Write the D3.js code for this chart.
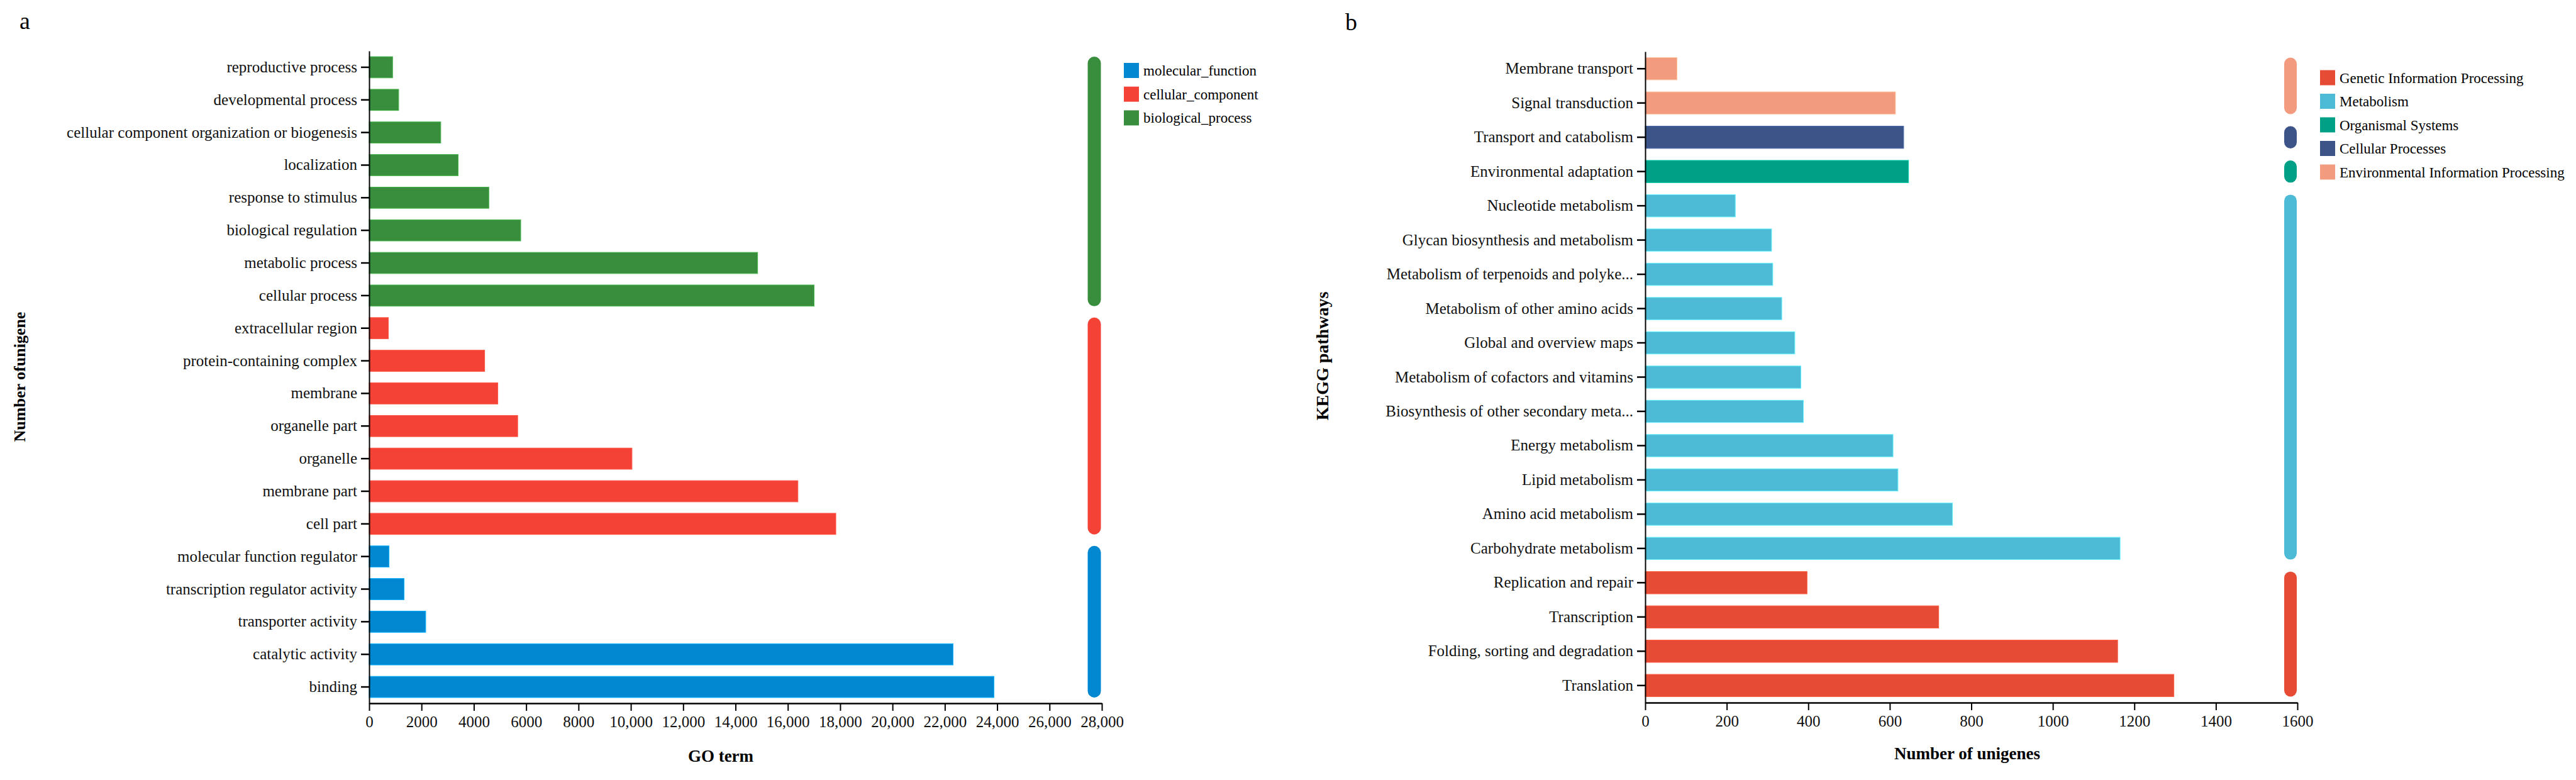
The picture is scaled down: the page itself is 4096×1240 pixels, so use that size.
<!DOCTYPE html>
<html>
<head>
<meta charset="utf-8">
<script src="https://cdn.jsdelivr.net/npm/d3@7"></script>
<style>
  body { margin: 0; background: #fff; }
  svg { font-family: "Liberation Serif", "Times New Roman", serif; }
</style>
</head>
<body>
<script>
// ---- data: panel a (GO) ----
var goTerms = [
  "reproductive process", "developmental process", "cellular component organization or biogenesis",
  "localization", "response to stimulus", "biological regulation", "metabolic process", "cellular process",
  "extracellular region", "protein-containing complex", "membrane", "organelle part", "organelle",
  "membrane part", "cell part",
  "molecular function regulator", "transcription regulator activity", "transporter activity",
  "catalytic activity", "binding"
];
var goCounts = [896, 1127, 2736, 3401, 4574, 5792, 14845, 17005,
  735, 4413, 4917, 5676, 10043, 16385, 17834,
  759, 1333, 2160, 22313, 23877];
var goClass = [
  "biological_process", "biological_process", "biological_process", "biological_process",
  "biological_process", "biological_process", "biological_process", "biological_process",
  "cellular_component", "cellular_component", "cellular_component", "cellular_component",
  "cellular_component", "cellular_component", "cellular_component",
  "molecular_function", "molecular_function", "molecular_function", "molecular_function", "molecular_function"
];
var goClassNames = ["molecular_function", "cellular_component", "biological_process"];
var goClassColors = ["#0288D1", "#F44336", "#388E3C"];
var goTicks = [0, 2000, 4000, 6000, 8000, 10000, 12000, 14000, 16000, 18000, 20000, 22000, 24000, 26000, 28000];

// ---- data: panel b (KEGG) ----
var keggPathways = [
  "Membrane transport", "Signal transduction", "Transport and catabolism", "Environmental adaptation",
  "Nucleotide metabolism", "Glycan biosynthesis and metabolism", "Metabolism of terpenoids and polyke...",
  "Metabolism of other amino acids", "Global and overview maps", "Metabolism of cofactors and vitamins",
  "Biosynthesis of other secondary meta...", "Energy metabolism", "Lipid metabolism",
  "Amino acid metabolism", "Carbohydrate metabolism",
  "Replication and repair", "Transcription", "Folding, sorting and degradation", "Translation"
];
var keggCounts = [78, 614, 634, 646, 221, 310, 313, 335, 367, 382, 388, 608, 620, 754, 1165, 397, 720, 1159, 1297];
var keggClass = [
  "Environmental Information Processing", "Environmental Information Processing",
  "Cellular Processes", "Organismal Systems",
  "Metabolism", "Metabolism", "Metabolism", "Metabolism", "Metabolism", "Metabolism",
  "Metabolism", "Metabolism", "Metabolism", "Metabolism", "Metabolism",
  "Genetic Information Processing", "Genetic Information Processing",
  "Genetic Information Processing", "Genetic Information Processing"
];
var keggClassNames = ["Genetic Information Processing", "Metabolism", "Organismal Systems",
  "Cellular Processes", "Environmental Information Processing"];
var keggClassColors = ["#E64B35", "#4DBBD5", "#00A087", "#3C5488", "#F39B7F"];
var keggTicks = [0, 200, 400, 600, 800, 1000, 1200, 1400, 1600];

var serif = '"Liberation Serif", "Times New Roman", serif';

var svg = d3.select("body").append("svg")
  .attr("width", 4096)
  .attr("height", 1240);

function drawPanel(p) {
  var g = svg.append("g");
  var color = d3.scaleOrdinal().domain(p.classNames).range(p.classColors);

  var x = d3.scaleLinear().domain([0, p.max]).range([p.x0, p.x1]);
  var y = d3.scaleBand().domain(p.names).range([p.yTop, p.yBot])
    .paddingInner(0.35).paddingOuter(0.175);

  var rows = p.names.map(function(n, i) { return { name: n, value: p.values[i], cls: p.classes[i] }; });

  g.selectAll("rect.bar").data(rows).enter().append("rect")
    .attr("class", "bar")
    .attr("x", x(0))
    .attr("y", function(d) { return y(d.name); })
    .attr("width", function(d) { return x(d.value) - x(0); })
    .attr("height", y.bandwidth())
    .attr("fill", function(d) { return color(d.cls); })
    .attr("stroke", function(d) { return d3.color(color(d.cls)).brighter(0.7); })
    .attr("stroke-width", 1);

  // rounded group bars on the right
  var runs = [];
  rows.forEach(function(d) {
    var last = runs[runs.length - 1];
    if (last && last.cls === d.cls) last.end = d.name;
    else runs.push({ cls: d.cls, start: d.name, end: d.name });
  });
  g.selectAll("rect.grp").data(runs).enter().append("rect")
    .attr("class", "grp")
    .attr("x", p.sideX - p.sideW / 2)
    .attr("width", p.sideW)
    .attr("y", function(d) { return y(d.start); })
    .attr("height", function(d) { return y(d.end) + y.bandwidth() - y(d.start); })
    .attr("rx", p.sideW / 2)
    .attr("fill", function(d) { return color(d.cls); });

  // axes
  var yAxis = g.append("g")
    .attr("transform", "translate(" + p.x0 + ",0)")
    .call(d3.axisLeft(y).tickSize(13).tickSizeOuter(0).tickPadding(6));
  yAxis.attr("font-family", serif).attr("font-size", 25);
  yAxis.select(".domain").attr("stroke-width", 2);
  yAxis.selectAll(".tick line").attr("stroke-width", 2.5);
  yAxis.selectAll(".tick text").attr("fill", "#111");

  var xAxis = g.append("g")
    .attr("transform", "translate(0," + p.yBot + ")")
    .call(d3.axisBottom(x).tickValues(p.ticks).tickSize(12).tickSizeOuter(0).tickPadding(8)
      .tickFormat(p.fmt));
  xAxis.attr("font-family", serif).attr("font-size", 25);
  xAxis.select(".domain").attr("stroke-width", 2.5);
  xAxis.selectAll(".tick line").attr("stroke-width", 2);
  xAxis.selectAll(".tick text").attr("fill", "#111");

  // titles
  g.append("text")
    .attr("x", p.xTitleX).attr("y", p.xTitleY)
    .attr("text-anchor", "middle")
    .attr("font-size", 27).attr("font-weight", "bold")
    .text(p.xTitle);
  g.append("text")
    .attr("transform", "translate(" + p.yTitleX + "," + p.yTitleY + ") rotate(-90)")
    .attr("text-anchor", "middle")
    .attr("dy", "0.35em")
    .attr("font-size", p.yTitleSize).attr("font-weight", "bold")
    .text(p.yTitle);
  g.append("text")
    .attr("x", p.letterX).attr("y", p.letterY)
    .attr("font-size", 38)
    .text(p.letter);

  // legend
  var leg = g.selectAll("g.leg").data(p.classNames).enter().append("g")
    .attr("class", "leg")
    .attr("transform", function(d, i) { return "translate(" + p.legX + "," + (p.legY + i * p.legStep) + ")"; });
  leg.append("rect")
    .attr("width", 24).attr("height", 24)
    .attr("fill", function(d) { return color(d); });
  leg.append("text")
    .attr("x", 31).attr("y", 12).attr("dy", "0.35em")
    .attr("font-size", 23)
    .text(function(d) { return d; });
}

drawPanel({
  names: goTerms, values: goCounts, classes: goClass,
  classNames: goClassNames, classColors: goClassColors,
  max: 28000, ticks: goTicks,
  fmt: function(v) { return v >= 10000 ? d3.format(",")(v) : String(v); },
  x0: 587, x1: 1752, yTop: 81, yBot: 1118,
  sideX: 1740, sideW: 21,
  legX: 1787, legY: 100, legStep: 37.7,
  xTitle: "GO term", xTitleX: 1146, xTitleY: 1211,
  yTitle: "Number ofunigene", yTitleX: 31, yTitleY: 599, yTitleSize: 26,
  letter: "a", letterX: 31, letterY: 46
});

drawPanel({
  names: keggPathways, values: keggCounts, classes: keggClass,
  classNames: keggClassNames, classColors: keggClassColors,
  max: 1600, ticks: keggTicks,
  fmt: function(v) { return String(v); },
  x0: 2616, x1: 3653, yTop: 82, yBot: 1117,
  sideX: 3642, sideW: 20,
  legX: 3689, legY: 111.5, legStep: 37.5,
  xTitle: "Number of unigenes", xTitleX: 3128, xTitleY: 1207,
  yTitle: "KEGG pathways", yTitleX: 2102, yTitleY: 566, yTitleSize: 28,
  letter: "b", letterX: 2139, letterY: 48
});
</script>
</body>
</html>
